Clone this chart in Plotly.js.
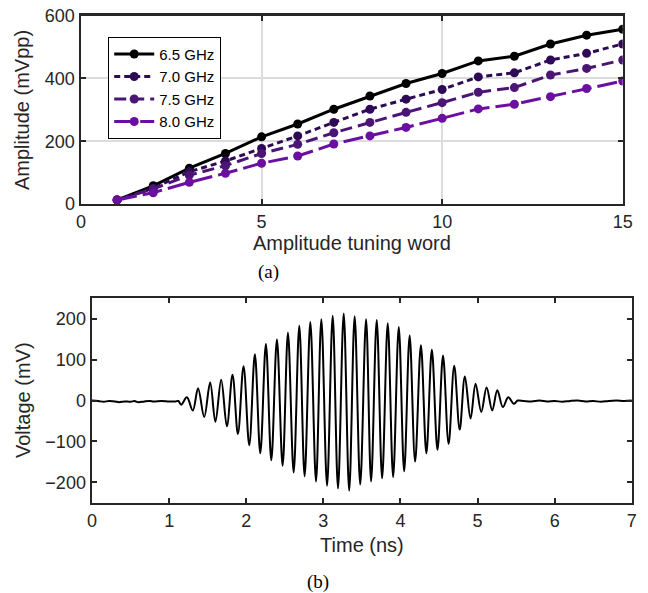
<!DOCTYPE html>
<html><head><meta charset="utf-8">
<script src="https://cdn.plot.ly/plotly-3.0.1.min.js"></script>
<style>html,body{margin:0;padding:0;background:#fff}#plot{width:648px;height:593px}</style>
</head><body><div id="plot"></div>
<script>
// Panel (a): amplitude vs tuning word
const tuningWord = [1,2,3,4,5,6,7,8,9,10,11,12,13,14,15];
const amp65 = [13,58,114,161,214,255,302,344,384,416,456,471,510,538,557];
const amp70 = [13,50,103,137,177,217,260,302,334,365,405,418,459,480,510];
const amp75 = [13,48,92,122,161,190,227,260,292,323,356,371,411,432,459];
const amp80 = [13,36,69,98,130,153,191,217,244,273,303,318,342,368,392];
const seriesNames = ['6.5 GHz','7.0 GHz','7.5 GHz','8.0 GHz'];

// Panel (b): waveform, read as baseline samples and oscillation extrema
const waveT = [0,0.08,0.15,0.22,0.3,0.35,0.42,0.5,0.55,0.6,0.68,0.75,0.8,0.9,1.0,1.08,1.12,
  1.156,1.23,1.307,1.375,1.455,1.532,1.60,1.675,1.749,1.822,1.892,1.965,2.039,2.112,2.182,2.255,2.325,2.398,
  2.472,2.541,2.615,2.688,2.757,2.831,2.905,2.974,3.048,3.121,3.19,3.264,3.335,3.406,3.478,3.554,3.619,3.692,
  3.762,3.835,3.905,3.978,4.048,4.119,4.19,4.265,4.336,4.407,4.48,4.552,4.624,4.697,4.768,4.835,4.909,4.974,
  5.048,5.117,5.19,5.256,5.328,5.398,5.47,5.52,
  5.6,5.7,5.8,5.9,6.0,6.1,6.2,6.3,6.4,6.5,6.6,6.7,6.8,6.9,7.0];
const waveV = [0,-1,-3,-1,-2,-4,-2,-3,-1,-4,-2,-1,-2,-1,-2,-2,-1,
  -10,8,-24,30,-40,44,-52,51,-63,63,-82,84,-109,113,-129,138,-146,149,
  -159,166,-176,183,-185,192,-198,199,-208,207,-215,213,-220,206,-205,199,-198,197,
  -190,189,-187,180,-173,159,-149,135,-129,124,-120,110,-106,85,-71,59,-44,41,
  -28,32,-24,25,-16,8,-8,0,
  -1,-2,0,-2,-1,-3,-1,0,-2,-1,-3,-1,0,-1,0];

const colors = ['#000000','#2e0a56','#4a1574','#6a0fa0'];
const dashes = ['solid','6px,4px','12px,6px','20px,6px'];
const ampSeries = [amp65, amp70, amp75, amp80];

const traces = ampSeries.map((ys,i)=>({
  x: tuningWord, y: ys, name: seriesNames[i], type:'scatter', mode:'lines+markers',
  line:{color:colors[i], width:3, dash:dashes[i]},
  marker:{color:colors[i], size:9, symbol:'circle'},
  xaxis:'x', yaxis:'y'
}));
traces.push({
  x: waveT, y: waveV, type:'scatter', mode:'lines', showlegend:false,
  line:{color:'#000', width:2, shape:'spline', smoothing:1},
  xaxis:'x2', yaxis:'y2'
});

const sans = 'Liberation Sans, Arial, sans-serif';
const frame = {showline:true, mirror:'ticks', linecolor:'#262626', linewidth:2.5,
  ticks:'inside', ticklen:5, tickwidth:2, tickcolor:'#262626', zeroline:false,
  tickfont:{family:sans, size:18, color:'#262626'}};
const titleFont = {family:sans, size:20, color:'#262626'};

const layout = {
  width:648, height:593, margin:{l:0,r:0,t:0,b:0},
  paper_bgcolor:'#fff', plot_bgcolor:'#fff',
  showlegend:true,
  legend:{x:0.167, y:0.938, xanchor:'left', yanchor:'top', bgcolor:'#fff',
    bordercolor:'#000', borderwidth:1, font:{family:sans, size:15, color:'#000'},
    tracegroupgap:0, itemwidth:40},
  xaxis: Object.assign({}, frame, {domain:[0.125,0.961], range:[0,15], tickvals:[0,5,10,15],
    showgrid:true, gridcolor:'#dcdcdc', gridwidth:2, anchor:'y',
    title:{text:'Amplitude tuning word', font:titleFont, standoff:4}}),
  yaxis: Object.assign({}, frame, {domain:[0.656,0.9735], range:[0,600], tickvals:[0,200,400,600],
    showgrid:true, gridcolor:'#dcdcdc', gridwidth:2, anchor:'x'}),
  xaxis2: Object.assign({}, frame, {domain:[0.142,0.975], range:[0,7], tickvals:[0,1,2,3,4,5,6,7],
    showgrid:false, anchor:'y2',
    title:{text:'Time (ns)', font:titleFont, standoff:8}}),
  yaxis2: Object.assign({}, frame, {domain:[0.152,0.497], range:[-250,250], tickvals:[-200,-100,0,100,200],
    showgrid:false, anchor:'x2'}),
  annotations:[
    {text:'Amplitude (mVpp)', textangle:-90, x:22/648, y:1-110/593, xref:'paper', yref:'paper',
     xanchor:'center', yanchor:'middle', showarrow:false, font:titleFont},
    {text:'Voltage (mV)', textangle:-90, x:23/648, y:1-400/593, xref:'paper', yref:'paper',
     xanchor:'center', yanchor:'middle', showarrow:false, font:titleFont},
    {text:'(a)', x:268/648, y:1-272/593, xref:'paper', yref:'paper', showarrow:false,
     xanchor:'center', yanchor:'middle',
     font:{family:'Liberation Serif, Times New Roman, serif', size:19, color:'#000'}},
    {text:'(b)', x:318/648, y:1-582/593, xref:'paper', yref:'paper', showarrow:false,
     xanchor:'center', yanchor:'middle',
     font:{family:'Liberation Serif, Times New Roman, serif', size:19, color:'#000'}}
  ]
};
Plotly.newPlot('plot', traces, layout, {displayModeBar:false, staticPlot:true});
</script></body></html>
